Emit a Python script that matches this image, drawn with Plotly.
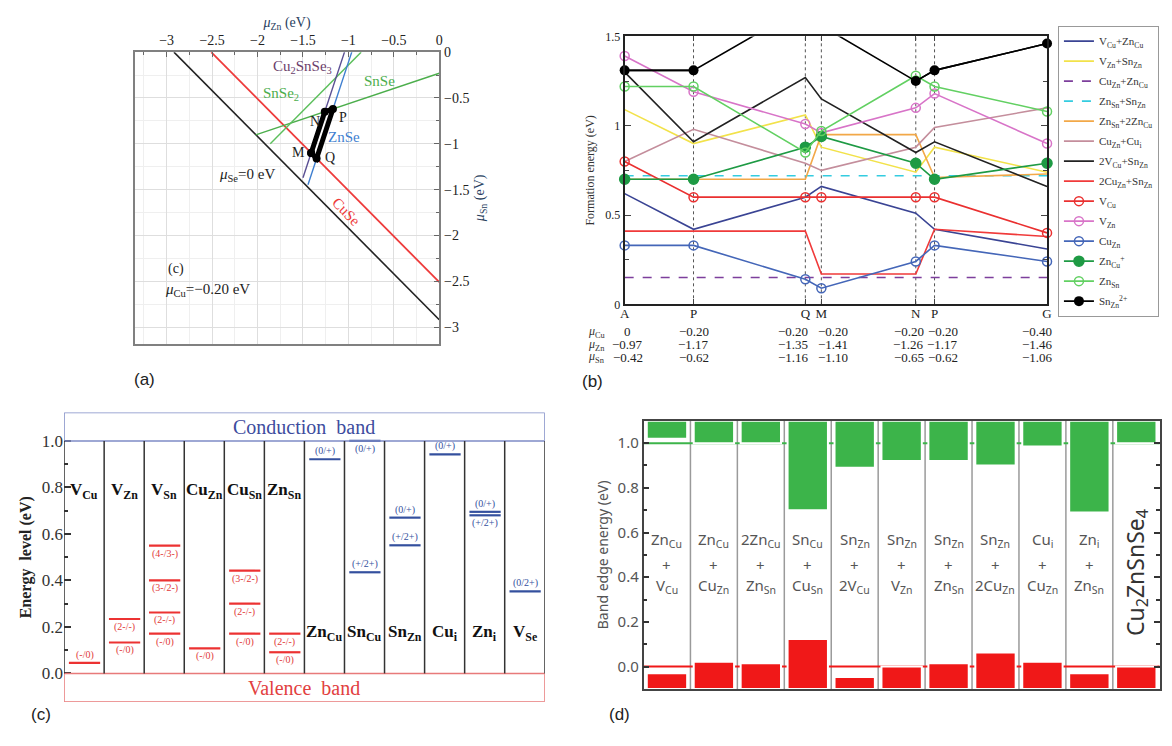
import plotly.graph_objects as go

W, H = 1172, 746
SERIF = "Liberation Serif"
SANS = "Liberation Sans"
DSANS = "Noto Sans"

# ---------------- panel (a): chemical potential map (mu_Cu = -0.20 eV) ----------------
a_muse0_x = [-2.92, 0.0]
a_muse0_y = [0.0, -2.92]
a_cuse_x = [-2.51, 0.0]
a_cuse_y = [0.0, -2.51]
a_cu2snse3_x = [-1.043, -1.50]
a_cu2snse3_y = [0.0, -1.37]
a_znse_x = [-0.963, -1.445]
a_znse_y = [0.0, -1.447]
a_snse_x = [-2.02, 0.0]
a_snse_y = [-0.903, -0.23]
a_snse2_x = [-1.86, -0.86]
a_snse2_y = [-1.0, 0.0]

# ---------------- panel (b): formation energies along the path ----------------
b_points = ["A", "P", "Q", "M", "N", "P", "G"]
b_pos = [0.0, 2.02, 5.30, 5.77, 8.54, 9.09, 12.39]
mu_cu = [0.0, -0.20, -0.20, -0.20, -0.20, -0.20, -0.40]
mu_zn = [-0.97, -1.17, -1.35, -1.41, -1.26, -1.17, -1.46]
mu_sn = [-0.42, -0.62, -1.16, -1.10, -0.65, -0.62, -1.06]

f_vcu_zncu = [0.62, 0.42, 0.60, 0.66, 0.51, 0.42, 0.31]
f_vzn_snzn = [1.09, 0.90, 1.06, 0.88, 0.74, 0.88, 0.74]
f_cuzn_zncu = [0.15, 0.15, 0.15, 0.15, 0.15, 0.15, 0.15]
f_znsn_snzn = [0.72, 0.72, 0.72, 0.72, 0.72, 0.72, 0.72]
f_znsn_2zncu = [0.70, 0.70, 0.70, 0.95, 0.95, 0.71, 0.73]
f_cuzn_cui = [0.80, 0.98, 0.79, 0.75, 0.88, 0.99, 1.10]
f_2vcu_snzn = [1.30, 0.91, 1.27, 1.15, 0.85, 0.91, 0.66]
f_2cuzn_snzn = [0.41, 0.41, 0.41, 0.17, 0.17, 0.42, 0.38]
f_vcu = [0.80, 0.60, 0.60, 0.60, 0.60, 0.60, 0.40]
f_vzn = [1.39, 1.19, 1.01, 0.96, 1.10, 1.18, 0.90]
f_cuzn = [0.33, 0.33, 0.14, 0.09, 0.24, 0.33, 0.24]
f_zncu = [0.70, 0.70, 0.88, 0.94, 0.79, 0.70, 0.79]
f_znsn = [1.22, 1.22, 0.85, 0.97, 1.28, 1.22, 1.08]
f_snzn = [1.31, 1.31, 1.67, 1.56, 1.25, 1.31, 1.46]

# ---------------- panel (c): transition levels ----------------
c_defects = ["V<sub>Cu</sub>", "V<sub>Zn</sub>", "V<sub>Sn</sub>", "Cu<sub>Zn</sub>", "Cu<sub>Sn</sub>",
             "Zn<sub>Sn</sub>", "Zn<sub>Cu</sub>", "Sn<sub>Cu</sub>", "Sn<sub>Zn</sub>", "Cu<sub>i</sub>",
             "Zn<sub>i</sub>", "V<sub>Se</sub>"]
lev_col = [0, 1, 1, 2, 2, 2, 2, 3, 4, 4, 4, 5, 5, 6, 7, 7, 8, 8, 9, 10, 10, 11]
lev_energy = [0.045, 0.234, 0.133, 0.55, 0.40, 0.262, 0.171, 0.108, 0.442, 0.30, 0.171, 0.171, 0.091,
              0.921, 1.0, 0.435, 0.67, 0.551, 0.942, 0.695, 0.680, 0.353]
lev_label = ["(-/0)", "(2-/-)", "(-/0)", "(4-/3-)", "(3-/2-)", "(2-/-)", "(-/0)", "(-/0)", "(3-/2-)",
             "(2-/-)", "(-/0)", "(2-/-)", "(-/0)", "(0/+)", "(0/+)", "(+/2+)", "(0/+)", "(+/2+)",
             "(0/+)", "(0/+)", "(+/2+)", "(0/2+)"]
lev_kind = ["a", "a", "a", "a", "a", "a", "a", "a", "a", "a", "a", "a", "a",
            "d", "d", "d", "d", "d", "d", "d", "d", "d"]
# label placement (style only): +1 above the level, -1 below
lev_side = [1, -1, -1, -1, -1, -1, -1, -1, -1, -1, -1, -1, -1, 1, -1, 1, 1, 1, 1, 1, -1, 1]

# ---------------- panel (d): band edges of defect complexes ----------------
d_top = ["Zn<sub>Cu</sub>", "Zn<sub>Cu</sub>", "2Zn<sub>Cu</sub>", "Sn<sub>Cu</sub>", "Sn<sub>Zn</sub>",
         "Sn<sub>Zn</sub>", "Sn<sub>Zn</sub>", "Sn<sub>Zn</sub>", "Cu<sub>i</sub>", "Zn<sub>i</sub>"]
d_bottom = ["V<sub>Cu</sub>", "Cu<sub>Zn</sub>", "Zn<sub>Sn</sub>", "Cu<sub>Sn</sub>", "2V<sub>Cu</sub>",
            "V<sub>Zn</sub>", "Zn<sub>Sn</sub>", "2Cu<sub>Zn</sub>", "Cu<sub>Zn</sub>", "Zn<sub>Sn</sub>"]
d_host = "Cu<sub>2</sub>ZnSnSe<sub>4</sub>"
d_cbm = [1.02, 1.00, 1.00, 0.70, 0.89, 0.92, 0.92, 0.90, 0.985, 0.69, 1.00]
d_vbm = [-0.03, 0.022, 0.015, 0.124, -0.047, 0.0, 0.015, 0.063, 0.022, -0.03, 0.0]


def px(x):
    return x / W


def py(y):
    return 1 - y / H


fig = go.Figure()
ann = []
shapes = []

# ======== (a) ========
for xs, ys, col, w in [(a_muse0_x, a_muse0_y, "#222222", 1.6),
                       (a_cuse_x, a_cuse_y, "#ee3b3b", 1.8),
                       (a_snse_x, a_snse_y, "#4cae4c", 1.4),
                       (a_snse2_x, a_snse2_y, "#5cbf5c", 1.4),
                       (a_cu2snse3_x, a_cu2snse3_y, "#5a4f93", 1.4),
                       (a_znse_x, a_znse_y, "#3f7fd0", 1.4)]:
    fig.add_trace(go.Scatter(x=xs, y=ys, mode="lines", line=dict(color=col, width=w),
                             xaxis="x", yaxis="y", showlegend=False, hoverinfo="skip"))
iQ, iM, iN, iP = 2, 3, 4, 5
poly_idx = [iM, iN, iP, iQ, iM]
fig.add_trace(go.Scatter(x=[mu_zn[i] for i in poly_idx], y=[mu_sn[i] for i in poly_idx],
                         mode="lines+markers", line=dict(color="black", width=5),
                         marker=dict(color="black", size=8), xaxis="x", yaxis="y",
                         showlegend=False, hoverinfo="skip"))

a_texts = [
    ("Cu<sub>2</sub>SnSe<sub>3</sub>", -1.51, -0.16, "#6b3d6b", 15, 0),
    ("SnSe<sub>2</sub>", -1.74, -0.46, "#4cae4c", 15, 0),
    ("SnSe", -0.66, -0.32, "#4cae4c", 15, 0),
    ("N", -1.37, -0.76, "#222", 14, 0),
    ("P", -1.06, -0.71, "#222", 14, 0),
    ("ZnSe", -1.05, -0.93, "#3f7fd0", 15, 0),
    ("M", -1.55, -1.10, "#222", 14, 0),
    ("Q", -1.20, -1.15, "#222", 14, 0),
    ("<i>μ</i><sub>Se</sub>=0 eV", -2.12, -1.34, "#222", 15, 0),
    ("CuSe", -1.02, -1.74, "#ee3b3b", 15, 46),
    ("(c)", -2.90, -2.37, "#222", 14, 0),
    ("<i>μ</i><sub>Cu</sub>=−0.20 eV", -2.55, -2.60, "#222", 15, 0),
]
for t, x, y, c, s, ang in a_texts:
    ann.append(dict(text=t, x=x, y=y, xref="x", yref="y", showarrow=False, textangle=ang,
                    font=dict(family=SERIF, size=s, color=c)))

# ======== (b) ========
b_series = [
    ("V<sub>Cu</sub>+Zn<sub>Cu</sub>", f_vcu_zncu, "#3a4494", "solid", None, False),
    ("V<sub>Zn</sub>+Sn<sub>Zn</sub>", f_vzn_snzn, "#f2e24a", "solid", None, False),
    ("Cu<sub>Zn</sub>+Zn<sub>Cu</sub>", f_cuzn_zncu, "#7d3f9c", "dash", None, False),
    ("Zn<sub>Sn</sub>+Sn<sub>Zn</sub>", f_znsn_snzn, "#34cce0", "dash", None, False),
    ("Zn<sub>Sn</sub>+2Zn<sub>Cu</sub>", f_znsn_2zncu, "#f2a848", "solid", None, False),
    ("Cu<sub>Zn</sub>+Cu<sub>i</sub>", f_cuzn_cui, "#c48e9c", "solid", None, False),
    ("2V<sub>Cu</sub>+Sn<sub>Zn</sub>", f_2vcu_snzn, "#222222", "solid", None, False),
    ("2Cu<sub>Zn</sub>+Sn<sub>Zn</sub>", f_2cuzn_snzn, "#f03a3a", "solid", None, False),
    ("V<sub>Cu</sub>", f_vcu, "#ea3030", "solid", "circle-open", False),
    ("V<sub>Zn</sub>", f_vzn, "#d874c8", "solid", "circle-open", False),
    ("Cu<sub>Zn</sub>", f_cuzn, "#4466b8", "solid", "circle-open", False),
    ("Zn<sub>Cu</sub><sup>+</sup>", f_zncu, "#1e9a44", "solid", "circle", False),
    ("Zn<sub>Sn</sub>", f_znsn, "#62d062", "solid", "circle-open", False),
    ("Sn<sub>Zn</sub><sup>2+</sup>", f_snzn, "#000000", "solid", "circle", True),
]
ymax_b = 1.5
for k, (name, vals, col, dash, sym, clipneeded) in enumerate(b_series):
    if clipneeded:
        fig.add_trace(go.Scatter(x=b_pos, y=vals, mode="lines", line=dict(color=col, width=1.6),
                                 xaxis="x2", yaxis="y2", showlegend=False, hoverinfo="skip"))
        shown = [v if v <= ymax_b else None for v in vals]
        fig.add_trace(go.Scatter(x=b_pos, y=shown, mode="lines+markers", name=name,
                                 line=dict(color=col, width=1.6),
                                 marker=dict(symbol=sym, size=10, color=col),
                                 xaxis="x2", yaxis="y2", cliponaxis=False, legendgroup=f"g{k}"))
        continue
    if sym is None:
        fig.add_trace(go.Scatter(x=b_pos, y=vals, mode="lines", name=name,
                                 line=dict(color=col, width=1.6, dash=dash),
                                 xaxis="x2", yaxis="y2", cliponaxis=False, legendgroup=f"g{k}"))
    else:
        fig.add_trace(go.Scatter(x=b_pos, y=vals, mode="lines+markers", name=name,
                                 line=dict(color=col, width=1.6),
                                 marker=dict(symbol=sym, size=10 if sym == "circle" else 9, color=col,
                                             line=dict(width=1.5, color=col)),
                                 xaxis="x2", yaxis="y2", cliponaxis=False, legendgroup=f"g{k}"))

for j in range(1, len(b_pos) - 1):
    shapes.append(dict(type="line", xref="x2", yref="y2 domain", x0=b_pos[j], x1=b_pos[j], y0=0, y1=1,
                       line=dict(color="#555", width=1, dash="dot"), layer="below"))

# table under panel (b)
b_shift = [3, 0, -12, 12, -7, 8, -10]
rows = [("<i>μ</i><sub>Cu</sub>", mu_cu, 331), ("<i>μ</i><sub>Zn</sub>", mu_zn, 344), ("<i>μ</i><sub>Sn</sub>", mu_sn, 357)]


def fmt(v):
    if v == 0:
        return "0"
    return f"{v:.2f}".replace("-", "−")


for lab, vals, ypix in rows:
    ann.append(dict(text=lab, x=px(597), y=py(ypix), xref="paper", yref="paper", showarrow=False,
                    font=dict(family=SERIF, size=12, color="#333")))
    for j, v in enumerate(vals):
        ann.append(dict(text=fmt(v), x=b_pos[j], xshift=b_shift[j], y=py(ypix), xref="x2", yref="paper",
                        showarrow=False, font=dict(family=SERIF, size=13, color="#222")))

# ======== (c) ========
shapes.append(dict(type="rect", xref="x3", yref="y3", x0=0, x1=12, y0=1.0, y1=1.122,
                   line=dict(color="#7f8cc6", width=1.5)))
shapes.append(dict(type="rect", xref="x3", yref="y3", x0=0, x1=12, y0=-0.123, y1=0.0,
                   line=dict(color="#e87a7a", width=1.5)))
for i in range(13):
    shapes.append(dict(type="line", xref="x3", yref="y3", x0=i, x1=i, y0=0, y1=1.0,
                       line=dict(color="#333", width=1.5)))
ann.append(dict(text="Conduction  band", x=6, y=1.061, xref="x3", yref="y3", showarrow=False,
                font=dict(family=SERIF, size=20, color="#3d4c9e")))
ann.append(dict(text="Valence  band", x=6, y=-0.062, xref="x3", yref="y3", showarrow=False,
                font=dict(family=SERIF, size=20, color="#e24040")))
for i, name in enumerate(c_defects):
    yv = 0.785 if i < 6 else 0.175
    ann.append(dict(text=f"<b>{name}</b>", x=i + 0.5, y=yv, xref="x3", yref="y3", showarrow=False,
                    font=dict(family=SERIF, size=17, color="#111")))

for kind, col in [("a", "#ec3232"), ("d", "#34509e")]:
    xs, ys = [], []
    for c, e, k in zip(lev_col, lev_energy, lev_kind):
        if k == kind:
            xs += [c + 0.12, c + 0.9, None]
            ys += [e, e, None]
    fig.add_trace(go.Scatter(x=xs, y=ys, mode="lines", line=dict(color=col, width=2.2),
                             xaxis="x3", yaxis="y3", showlegend=False, hoverinfo="skip"))
for c, e, lab, k, s in zip(lev_col, lev_energy, lev_label, lev_kind, lev_side):
    ann.append(dict(text=lab, x=c + 0.51, y=e, xref="x3", yref="y3", yshift=8 * s, showarrow=False,
                    font=dict(family=SERIF, size=10, color="#e23a3a" if k == "a" else "#34509e")))

# ======== (d) ========
for i in range(1, 11):
    shapes.append(dict(type="line", xref="x4", yref="y4", x0=i, x1=i, y0=-0.1, y1=1.1,
                       line=dict(color="#9a9a9a", width=1.5), layer="below"))
shapes.append(dict(type="line", xref="x4", yref="y4", x0=0, x1=11, y0=1.0, y1=1.0,
                   line=dict(color="#3cb44a", width=2), layer="below"))
shapes.append(dict(type="line", xref="x4", yref="y4", x0=0, x1=11, y0=0.0, y1=0.0,
                   line=dict(color="#f01818", width=2), layer="below"))
d_x = [i + 0.5 for i in range(len(d_cbm))]
fig.add_trace(go.Bar(x=d_x, base=d_cbm, y=[1.1 - v for v in d_cbm], width=0.86,
                     marker=dict(color="#3cb44a", line=dict(color="white", width=2)),
                     xaxis="x4", yaxis="y4", showlegend=False, hoverinfo="skip"))
fig.add_trace(go.Bar(x=d_x, base=[-0.1] * len(d_vbm), y=[v + 0.1 for v in d_vbm], width=0.86,
                     marker=dict(color="#f01818", line=dict(color="white", width=2)),
                     xaxis="x4", yaxis="y4", showlegend=False, hoverinfo="skip"))
for i in range(len(d_top)):
    for t, yv in [(d_top[i], 0.565), ("+", 0.455), (d_bottom[i], 0.36)]:
        ann.append(dict(text=t, x=i + 0.5, y=yv, xref="x4", yref="y4", showarrow=False,
                        font=dict(family=DSANS, size=15, color="#555")))
ann.append(dict(text=d_host, x=10.5, y=0.42, xref="x4", yref="y4", showarrow=False, textangle=-90,
                font=dict(family=DSANS, size=23, color="#333")))

# panel letters
for t, x, y in [("(a)", 128, 380), ("(b)", 593, 382), ("(c)", 24, 733), ("(d)", 620, 733)]:
    ann.append(dict(text=t, x=px(x), y=py(y), xref="paper", yref="paper", showarrow=False,
                    font=dict(family=SANS, size=17, color="#222")))

tickfont_a = dict(family=SERIF, size=14, color="#222")
c_ticks = [0, 0.2, 0.4, 0.6, 0.8, 1.0]
c_minor = [0.1, 0.3, 0.5, 0.7, 0.9]
fig.update_layout(
    width=W, height=H, margin=dict(l=0, r=0, t=0, b=0), paper_bgcolor="white", plot_bgcolor="white",
    barmode="overlay",
    xaxis=dict(domain=[px(131), px(438)], range=[-3.35, 0], side="top", anchor="y",
               tickvals=[-3, -2.5, -2, -1.5, -1, -0.5, 0], showgrid=True, gridcolor="#dedede",
               showline=True, mirror=True, linecolor="#808080", linewidth=2, ticks="inside", ticklen=5,
               tickcolor="#666", minor=dict(dtick=0.25, ticks="inside", ticklen=3, tickcolor="#666",
                                              showgrid=True, gridcolor="#efefef"),
               zeroline=False, tickfont=tickfont_a,
               title=dict(text="<i>μ</i><sub>Zn</sub> (eV)", font=dict(family=SERIF, size=14), standoff=2)),
    yaxis=dict(domain=[py(343), py(46)], range=[-3.18, 0], side="right", anchor="x",
               tickvals=[-3, -2.5, -2, -1.5, -1, -0.5, 0], showgrid=True, gridcolor="#dedede",
               showline=True, mirror=True, linecolor="#808080", linewidth=2, ticks="inside", ticklen=5,
               tickcolor="#666", minor=dict(dtick=0.25, ticks="inside", ticklen=3, tickcolor="#666",
                                              showgrid=True, gridcolor="#efefef"),
               zeroline=False, tickfont=tickfont_a,
               title=dict(text="<i>μ</i><sub>Sn</sub> (eV)", font=dict(family=SERIF, size=14), standoff=6)),
    xaxis2=dict(domain=[px(625), px(1051)], range=[0, b_pos[-1]], anchor="y2",
                tickvals=b_pos, ticktext=b_points, ticks="inside", ticklen=5, showgrid=False,
                showline=True, mirror="ticks", linecolor="#222", linewidth=2, zeroline=False,
                ticklabelstandoff=-4,
                tickfont=dict(family=SERIF, size=13, color="#222")),
    yaxis2=dict(domain=[py(303), py(30)], range=[0, 1.5], anchor="x2",
                tickvals=[0, 0.5, 1, 1.5], ticktext=["0", "0.5", "1", "1.5"], ticks="inside", ticklen=6,
                minor=dict(dtick=0.25, ticks="inside", ticklen=4), showgrid=False,
                showline=True, mirror="ticks", linecolor="#222", linewidth=2, zeroline=False,
                tickfont=dict(family=SERIF, size=12, color="#222"),
                title=dict(text="Formation energy (eV)", font=dict(family=SERIF, size=12, color="#333"),
                           standoff=8)),
    xaxis3=dict(domain=[px(59.6), px(544.4)], range=[0, 12], anchor="y3", visible=False),
    yaxis3=dict(domain=[py(708.3), py(413.3)], range=[-0.123, 1.122], anchor="x3",
                tickvals=c_ticks, ticktext=["0.0", "0.2", "0.4", "0.6", "0.8", "1.0"],
                ticks="inside", ticklen=7, tickwidth=1.5, tickcolor="#333",
                minor=dict(tickvals=c_minor, ticks="inside", ticklen=4, tickcolor="#333"),
                showgrid=False, zeroline=False, showline=False,
                tickfont=dict(family=SERIF, size=17, color="#333"),
                title=dict(text="<b>Energy  level (eV)</b>", font=dict(family=SERIF, size=16, color="#222"),
                           standoff=6)),
    yaxis5=dict(overlaying="y3", side="right", anchor="x3", range=[-0.123, 1.122],
                tickvals=c_ticks, showticklabels=False, ticks="inside", ticklen=7, tickwidth=1.5,
                tickcolor="#333", minor=dict(tickvals=c_minor, ticks="inside", ticklen=4, tickcolor="#333"),
                showgrid=False, zeroline=False, showline=False),
    xaxis4=dict(domain=[px(644), px(1164.7)], range=[0, 11], anchor="y4", showticklabels=False,
                ticks="", showgrid=False, zeroline=False, showline=True, mirror=True,
                linecolor="#444", linewidth=1.5),
    yaxis4=dict(domain=[py(695), py(421.7)], range=[-0.1, 1.1], anchor="x4",
                tickvals=c_ticks, ticktext=["0.0", "0.2", "0.4", "0.6", "0.8", "1.0"],
                ticks="inside", ticklen=6, tickwidth=2, tickcolor="#333", mirror="ticks",
                minor=dict(dtick=0.1, ticks="inside", ticklen=4, tickcolor="#333"),
                showgrid=False, zeroline=False, showline=True, linecolor="#444", linewidth=1.5,
                tickfont=dict(family=DSANS, size=15, color="#555"),
                title=dict(text="Band edge energy (eV)", font=dict(family=DSANS, size=14, color="#555"),
                           standoff=6)),
    legend=dict(x=px(1062), y=py(19), xanchor="left", yanchor="top", bordercolor="#999", borderwidth=1,
                bgcolor="white", font=dict(family=SERIF, size=11, color="#333"), itemwidth=30,
                tracegroupgap=1, traceorder="grouped"),
    annotations=ann, shapes=shapes,
)

fig.write_html("out.html")
